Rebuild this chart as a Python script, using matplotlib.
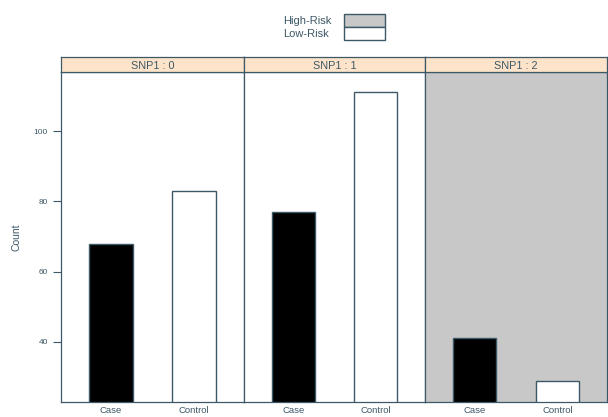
import matplotlib
matplotlib.use("Agg")
import matplotlib.pyplot as plt
from matplotlib.patches import Rectangle

plt.rcParams['font.family'] = ['Liberation Sans', 'DejaVu Sans']

panels = ["SNP1 : 0", "SNP1 : 1", "SNP1 : 2"]
groups = ["Case", "Control"]
case_counts = [68, 77, 41]
control_counts = [83, 111, 29]
risk = ["Low-Risk", "Low-Risk", "High-Risk"]
yticks = [40, 60, 80, 100]

risk_colors = {"High-Risk": "#c8c8c8", "Low-Risk": "#ffffff"}
edge = "#3d5866"
txt = "#3d5866"
strip_col = "#fde3c9"

W, H = 608, 417
fig = plt.figure(figsize=(W / 100, H / 100), dpi=100)

xs = [61, 244, 425, 607]
y_top, y_bot = 72, 402
strip_top = 57
ylim = (22.9, 116.8)

for i, name in enumerate(panels):
    left = xs[i] / W
    width = (xs[i + 1] - xs[i]) / W
    ax = fig.add_axes([left, (H - y_bot) / H, width, (y_bot - y_top) / H])
    ax.set_facecolor(risk_colors[risk[i]])
    vals = [case_counts[i], control_counts[i]]
    ax.bar([1, 2], vals, width=0.52, color=["black", "white"],
           edgecolor=edge, linewidth=1.0, bottom=0)
    ax.set_xlim(0.4, 2.6)
    ax.set_ylim(*ylim)
    ax.set_xticks([1, 2])
    ax.set_xticklabels(groups, fontsize=6.8, color=txt)
    ax.tick_params(axis='x', length=0, pad=3)
    if i == 0:
        ax.set_yticks(yticks)
        ax.set_yticklabels([str(v) for v in yticks], fontsize=6, color=txt)
        ax.tick_params(axis='y', length=5.5, color=edge, width=0.8, pad=4)
        ax.set_ylabel("Count", fontsize=7.5, color=txt, labelpad=9)
    else:
        ax.set_yticks([])
    for s in ax.spines.values():
        s.set_color(edge)
        s.set_linewidth(0.9)
    # strip
    sax = fig.add_axes([left, (H - y_top) / H, width, (y_top - strip_top) / H])
    sax.set_facecolor(strip_col)
    sax.set_xticks([])
    sax.set_yticks([])
    for s in sax.spines.values():
        s.set_color(edge)
        s.set_linewidth(0.9)
    sax.text(0.5, 0.42, name, ha='center', va='center', fontsize=7.8,
             color=txt, transform=sax.transAxes)

# legend
lax = fig.add_axes([0, 0, 1, 1], facecolor='none')
lax.set_xlim(0, W)
lax.set_ylim(H, 0)
lax.axis('off')
lax.add_patch(Rectangle((344, 14), 41, 13, facecolor=risk_colors["High-Risk"],
                        edgecolor=edge, linewidth=1.0))
lax.add_patch(Rectangle((344, 27), 41, 13, facecolor=risk_colors["Low-Risk"],
                        edgecolor=edge, linewidth=1.0))
lax.text(283, 20.5, "High-Risk", fontsize=8, color=txt, va='center', ha='left')
lax.text(283, 33.5, "Low-Risk", fontsize=8, color=txt, va='center', ha='left')

fig.savefig("out.png", dpi=100)
